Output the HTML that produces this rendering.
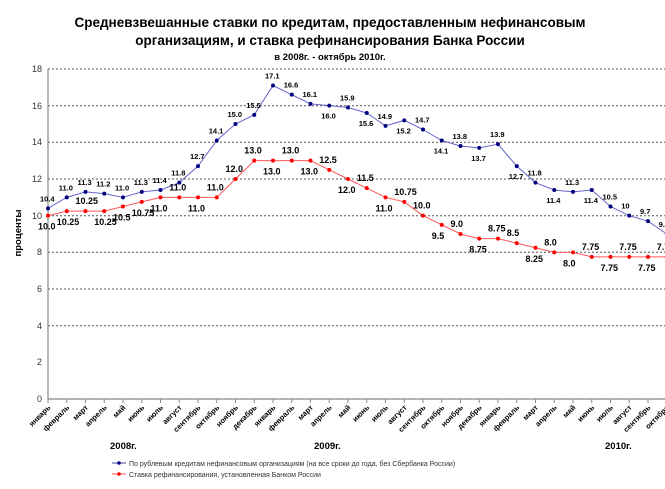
<!DOCTYPE html>
<html><head><meta charset="utf-8"><style>
body{margin:0;background:#fff;}
svg text{font-family:"Liberation Sans",sans-serif;}
</style></head><body>
<svg width="665" height="484" xmlns="http://www.w3.org/2000/svg">
<text x="330" y="27" font-size="13.5" font-weight="bold" text-anchor="middle">Средневзвешанные ставки по кредитам, предоставленным нефинансовым</text>
<text x="330" y="45" font-size="13.5" font-weight="bold" text-anchor="middle">организациям, и ставка рефинансирования Банка России</text>
<text x="330" y="60" font-size="9.5" font-weight="bold" text-anchor="middle">в 2008г. - октябрь 2010г.</text>
<g id="grid" stroke="#555" stroke-dasharray="2,2" stroke-width="1">
<line x1="48" x2="665" y1="69" y2="69"/><line x1="48" x2="665" y1="105.7" y2="105.7"/>
<line x1="48" x2="665" y1="142.3" y2="142.3"/><line x1="48" x2="665" y1="179" y2="179"/>
<line x1="48" x2="665" y1="215.7" y2="215.7"/><line x1="48" x2="665" y1="252.3" y2="252.3"/>
<line x1="48" x2="665" y1="289" y2="289"/><line x1="48" x2="665" y1="325.7" y2="325.7"/>
</g>
<line x1="48" x2="48" y1="69" y2="399" stroke="#888" stroke-width="1.2"/>
<line x1="48" x2="665" y1="399" y2="399" stroke="#888" stroke-width="1.2"/>
<g font-size="9" fill="#333" text-anchor="end">
<text x="42" y="72">18</text><text x="42" y="109">16</text><text x="42" y="145">14</text><text x="42" y="182">12</text><text x="42" y="219">10</text><text x="42" y="255">8</text><text x="42" y="292">6</text><text x="42" y="329">4</text><text x="42" y="365">2</text><text x="42" y="402">0</text>
</g>
<text transform="translate(21,233) rotate(-90)" font-size="9.5" font-weight="bold" text-anchor="middle">проценты</text>
<g id="ticks"></g><g id="months"></g>
<g font-size="9.5" font-weight="bold"><text x="110" y="449">2008г.</text><text x="314" y="449">2009г.</text><text x="605" y="449">2010г.</text></g>
<polyline id="bl" fill="none" stroke="#6666cc" stroke-width="1"/>
<polyline id="rl" fill="none" stroke="#ff5555" stroke-width="1"/>
<g id="pts"></g><g id="lbl" font-size="8" font-weight="bold"></g>
<g font-size="7" fill="#333">
<line x1="112" x2="126" y1="463" y2="463" stroke="#4040a0"/><circle cx="119" cy="463" r="1.8" fill="#000080"/>
<text x="129" y="466">По рублевым кредитам нефинансовым организациям (на все сроки до года, без Сбербанка России)</text>
<line x1="112" x2="126" y1="474" y2="474" stroke="#ff5555"/><circle cx="119" cy="474" r="1.8" fill="#f00"/>
<text x="129" y="477">Ставка рефинансирования, установленная Банком России</text>
</g>
</svg>
<script>
var B=[10.4,11.0,11.3,11.2,11.0,11.3,11.4,11.8,12.7,14.1,15.0,15.5,17.1,16.6,16.1,16.0,15.9,15.6,14.9,15.2,14.7,14.1,13.8,13.7,13.9,12.7,11.8,11.4,11.3,11.4,10.5,10.0,9.7,9.0];
var R=[10.0,10.25,10.25,10.25,10.5,10.75,11.0,11.0,11.0,11.0,12.0,13.0,13.0,13.0,13.0,12.5,12.0,11.5,11.0,10.75,10.0,9.5,9.0,8.75,8.75,8.5,8.25,8.0,8.0,7.75,7.75,7.75,7.75,7.75];
var BL=["10.4","11.0","11.3","11.2","11.0","11.3","11.4","11.8","12.7","14.1","15.0","15.5","17.1","16.6","16.1","16.0","15.9","15.6","14.9","15.2","14.7","14.1","13.8","13.7","13.9","12.7","11.8","11.4","11.3","11.4","10.5","10","9.7","9.0"];
var RL=["10.0","10.25","10.25","10.25","10.5","10.75","11.0","11.0","11.0","11.0","12.0","13.0","13.0","13.0","13.0","12.5","12.0","11.5","11.0","10.75","10.0","9.5","9.0","8.75","8.75","8.5","8.25","8.0","8.0","7.75","7.75","7.75","7.75","7.75"];
var bd=[0,0,0,0,0,0,0,0,0,0,0,0,0,0,0,1,0,1,0,1,0,1,0,1,0,1,0,1,0,1,0,0,0,0];
var rd=[1,1,0,1,1,1,1,0,1,0,0,0,1,0,1,0,1,0,1,0,0,1,0,1,0,0,1,0,1,0,1,0,1,0];
var M=["январь","февраль","март","апрель","май","июнь","июль","август","сентябрь","октябрь","ноябрь","декабрь"];
function X(i){return 48+i*18.75}function Y(v){return 399-v*18.333}
var ns="http://www.w3.org/2000/svg";
function el(p,t,a,txt){var e=document.createElementNS(ns,t);for(var k in a)e.setAttribute(k,a[k]);if(txt)e.textContent=txt;document.getElementById(p).appendChild(e);}
document.getElementById('bl').setAttribute('points',B.map(function(v,i){return X(i)+','+Y(v)}).join(' '));
document.getElementById('rl').setAttribute('points',R.map(function(v,i){return X(i)+','+Y(v)}).join(' '));
for(var i=0;i<34;i++){var x=X(i);
el('ticks','line',{x1:x,x2:x,y1:399,y2:403,stroke:'#888'});
el('months','text',{'font-size':'7.5','font-weight':'bold','text-anchor':'end',transform:'translate('+(x+3)+',408) rotate(-45)'},M[i%12]);
el('pts','circle',{cx:x,cy:Y(B[i]),r:2,fill:'#000080'});
el('pts','circle',{cx:x,cy:Y(R[i]),r:2,fill:'#f00'});
el('lbl','text',{x:x-8,y:bd[i]?Y(B[i])+13:Y(B[i])-7,'font-size':'7.5'},BL[i]);
el('lbl','text',{x:x-10,y:rd[i]?Y(R[i])+14:Y(R[i])-7,'font-size':'9'},RL[i]);
}
</script>
</body></html>
